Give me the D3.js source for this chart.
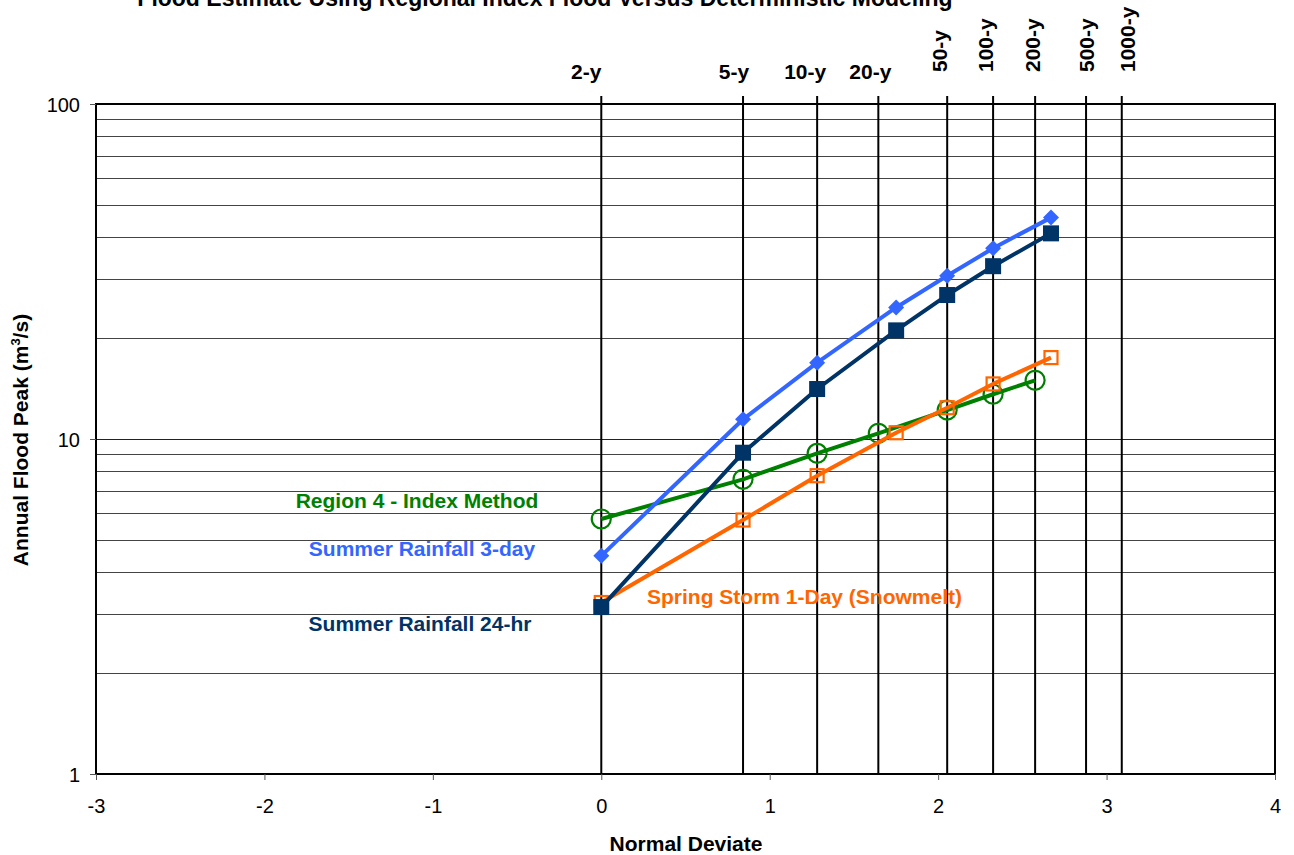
<!DOCTYPE html>
<html>
<head>
<meta charset="utf-8">
<script src="https://cdn.jsdelivr.net/npm/d3@7"></script>
<style>
  html, body { margin: 0; padding: 0; background: #fff; }
  svg { display: block; font-family: "Liberation Sans", Arial, sans-serif; }
</style>
</head>
<body>
<svg id="chart" width="1294" height="855"></svg>
<script>
// Return-period reference lines (standard normal deviate of each exceedance probability)
const periodLabels = ["2-y", "5-y", "10-y", "20-y", "50-y", "100-y", "200-y", "500-y", "1000-y"];
const periodZ = [0, 0.8416, 1.2816, 1.6449, 2.0537, 2.3263, 2.5758, 2.8782, 3.0902];

// Deterministic model runs share the same plotting positions
const modelZ = [0, 0.8416, 1.2816, 1.7507, 2.0537, 2.3263, 2.67];
const summer3day = [4.48, 11.45, 16.9, 24.7, 30.7, 37.1, 45.8];
const summer24hr = [3.15, 9.1, 14.1, 21.1, 26.9, 32.8, 41.1];
const springStorm = [3.25, 5.73, 7.77, 10.44, 12.4, 14.6, 17.5];

// Regional index flood estimate
const regionZ = [0, 0.8416, 1.2816, 1.6449, 2.0537, 2.3263, 2.5758];
const region4 = [5.77, 7.58, 9.06, 10.4, 12.2, 13.6, 14.97];

const xTicks = [-3, -2, -1, 0, 1, 2, 3, 4];
const yTicks = [1, 10, 100];
const yGrid = [2, 3, 4, 5, 6, 7, 8, 9, 20, 30, 40, 50, 60, 70, 80, 90];

const svg = d3.select("#chart");
const plotL = 96, plotR = 1275, plotT = 104, plotB = 774;

const x = d3.scaleLinear().domain([-3, 4]).range([plotL, plotR]);
const y = d3.scaleLog().domain([1, 100]).range([plotB, plotT]);

// Title (partly above the page edge)
svg.append("text")
  .attr("x", 545).attr("y", 6)
  .attr("text-anchor", "middle")
  .attr("font-size", 23).attr("font-weight", "bold")
  .text("Flood Estimate Using Regional Index Flood Versus Deterministic Modeling");

// Horizontal minor gridlines
svg.append("g").selectAll("line").data(yGrid).join("line")
  .attr("x1", plotL).attr("x2", plotR)
  .attr("y1", d => Math.round(y(d)) + 0.5).attr("y2", d => Math.round(y(d)) + 0.5)
  .attr("stroke", "#444").attr("stroke-width", 1);

// Major gridline at 10
svg.append("line")
  .attr("x1", plotL).attr("x2", plotR)
  .attr("y1", Math.round(y(10)) + 0.5).attr("y2", Math.round(y(10)) + 0.5)
  .attr("stroke", "#222").attr("stroke-width", 1);

// Return-period verticals
svg.append("g").selectAll("line").data(periodZ).join("line")
  .attr("x1", d => x(d)).attr("x2", d => x(d))
  .attr("y1", plotT - 8).attr("y2", plotB)
  .attr("stroke", "#000").attr("stroke-width", 2);

// Return-period labels: short ones horizontal, long ones rotated.
// Small horizontal nudges keep each label clear of its neighbour.
const labelNudge = [-15, -9, -12, -8, 0, 0, 5, 8, 13];
const lab = svg.append("g").attr("font-size", 21).attr("font-weight", "bold");
periodLabels.forEach((t, i) => {
  const px = x(periodZ[i]) + labelNudge[i];
  if (i < 4) {
    lab.append("text").attr("x", px).attr("y", 79)
      .attr("text-anchor", "middle").text(t);
  } else {
    lab.append("text")
      .attr("transform", `translate(${px},72) rotate(-90)`)
      .attr("text-anchor", "start").text(t);
  }
});

// Plot frame
svg.append("rect")
  .attr("x", plotL).attr("y", plotT)
  .attr("width", plotR - plotL).attr("height", plotB - plotT)
  .attr("fill", "none").attr("stroke", "#000").attr("stroke-width", 2);

// Axes
const xAxis = d3.axisBottom(x).tickValues(xTicks).tickSize(6).tickPadding(19)
  .tickFormat(d => String(d));
const gx = svg.append("g").attr("transform", `translate(0,${plotB})`).call(xAxis);
gx.select(".domain").remove();
gx.selectAll("line").attr("stroke", "#555");
gx.selectAll("text").attr("font-size", 20).attr("font-family", "Liberation Sans, Arial, sans-serif")
  .attr("fill", "#000");

const yAxis = d3.axisLeft(y).tickValues(yTicks).tickSize(6).tickPadding(10)
  .tickFormat(d => String(d));
const gy = svg.append("g").attr("transform", `translate(${plotL},0)`).call(yAxis);
gy.select(".domain").remove();
gy.selectAll("line").attr("stroke", "#555");
gy.selectAll("text").attr("font-size", 20).attr("font-family", "Liberation Sans, Arial, sans-serif")
  .attr("fill", "#000").attr("dy", "0.35em");

// Axis titles
svg.append("text")
  .attr("x", 686).attr("y", 851)
  .attr("text-anchor", "middle")
  .attr("font-size", 21).attr("font-weight", "bold")
  .text("Normal Deviate");

const yt = svg.append("text")
  .attr("transform", "translate(28,440) rotate(-90)")
  .attr("text-anchor", "middle")
  .attr("font-size", 21).attr("font-weight", "bold");
yt.append("tspan").text("Annual Flood Peak (m");
yt.append("tspan").attr("font-size", 13).attr("dy", -8).text("3");
yt.append("tspan").attr("dy", 8).text("/s)");

// Series
const line = d3.line().x(d => x(d[0])).y(d => y(d[1]));
const series = [
  { name: "Region 4 - Index Method", zs: regionZ, vs: region4, color: "#008000", marker: "circle" },
  { name: "Spring Storm 1-Day (Snowmelt)", zs: modelZ, vs: springStorm, color: "#FF6600", marker: "openSquare" },
  { name: "Summer Rainfall 24-hr", zs: modelZ, vs: summer24hr, color: "#003366", marker: "square" },
  { name: "Summer Rainfall 3-day", zs: modelZ, vs: summer3day, color: "#3366FF", marker: "diamond" }
];

series.forEach(s => {
  const pts = s.zs.map((z, i) => [z, s.vs[i]]);
  const g = svg.append("g");
  g.append("path").datum(pts)
    .attr("d", line).attr("fill", "none")
    .attr("stroke", s.color).attr("stroke-width", 4).attr("stroke-linejoin", "round");
  const m = g.selectAll(".m").data(pts).join("g")
    .attr("transform", d => `translate(${x(d[0])},${y(d[1])})`);
  if (s.marker === "circle") {
    m.append("circle").attr("r", 9.5).attr("fill", "none")
      .attr("stroke", s.color).attr("stroke-width", 2.2);
  } else if (s.marker === "openSquare") {
    m.append("rect").attr("x", -6.5).attr("y", -6.5).attr("width", 13).attr("height", 13)
      .attr("fill", "none").attr("stroke", s.color).attr("stroke-width", 2.2);
  } else if (s.marker === "square") {
    m.append("rect").attr("x", -8).attr("y", -8).attr("width", 16).attr("height", 16)
      .attr("fill", s.color);
  } else {
    m.append("path").attr("d", "M0,-8L8,0L0,8L-8,0Z").attr("fill", s.color);
  }
});

// Series labels
const labels = [
  { text: "Region 4 - Index Method", color: "#008000", x: 417, y: 508, anchor: "middle" },
  { text: "Summer Rainfall 3-day", color: "#3366FF", x: 422, y: 556, anchor: "middle" },
  { text: "Summer Rainfall 24-hr", color: "#003366", x: 420, y: 631, anchor: "middle" },
  { text: "Spring Storm 1-Day (Snowmelt)", color: "#FF6600", x: 647, y: 604, anchor: "start" }
];
svg.append("g").selectAll("text").data(labels).join("text")
  .attr("x", d => d.x).attr("y", d => d.y)
  .attr("text-anchor", d => d.anchor)
  .attr("fill", d => d.color)
  .attr("font-size", 21).attr("font-weight", "bold")
  .text(d => d.text);
</script>
</body>
</html>
